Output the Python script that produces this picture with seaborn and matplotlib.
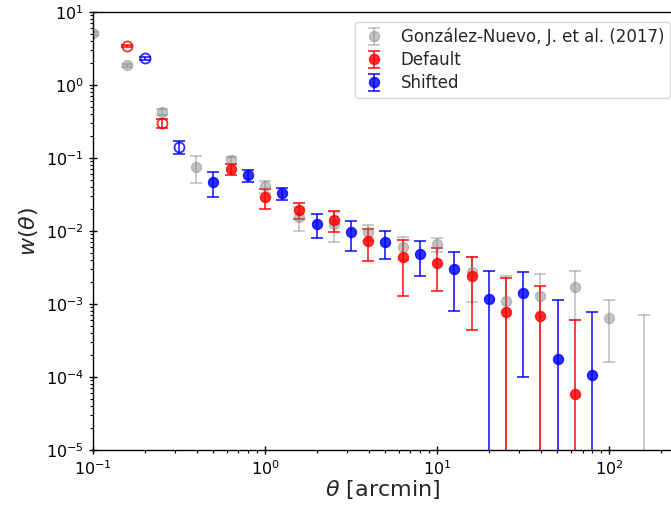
import numpy as np
import matplotlib
matplotlib.use("Agg")
import matplotlib.pyplot as plt
import seaborn as sns

# ---- data ----
gn_theta = [0.1, 0.1585, 0.2512, 0.3981, 0.631, 1.0, 1.585, 2.512, 3.981,
            6.31, 10.0, 15.85, 25.12, 39.81, 63.1, 100.0, 158.5]
gn_w = [5.1, 1.85, 0.43, 0.076, 0.094, 0.041, 0.0156, 0.0126, 0.0097,
        0.0061, 0.0066, 0.00277, 0.0011, 0.00129, 0.00171, 0.00064, -0.0003]
gn_err = [0.2, 0.07, 0.04, 0.03, 0.01, 0.0078, 0.0056, 0.0055, 0.0024,
          0.0021, 0.0015, 0.0017, 0.0013, 0.0013, 0.0011, 0.00048, 0.001]

def_theta = [0.1585, 0.2512, 0.631, 1.0, 1.585, 2.512, 3.981, 6.31, 10.0,
             15.85, 25.12, 39.81, 63.1]
def_w = [3.42, 0.30, 0.071, 0.029, 0.0194, 0.0142, 0.0073, 0.0044, 0.0037,
         0.00244, 0.00078, 0.00069, 5.8e-5]
def_err = [0.12, 0.04, 0.013, 0.009, 0.005, 0.0044, 0.0034, 0.0031, 0.0022,
           0.002, 0.00147, 0.0011, 0.00055]
def_open = [True, True, False, False, False, False, False, False, False,
            False, False, False, False]

sh_theta = [0.1995, 0.3162, 0.5012, 0.7943, 1.259, 1.995, 3.162, 5.012,
            7.943, 12.59, 19.95, 31.62, 50.12, 79.43]
sh_w = [2.32, 0.143, 0.047, 0.058, 0.033, 0.0124, 0.0096, 0.0071, 0.0048,
        0.0030, 0.00118, 0.00142, 1.75e-4, 1.06e-4]
sh_err = [0.12, 0.03, 0.018, 0.011, 0.0062, 0.0045, 0.0042, 0.003, 0.0024,
          0.0022, 0.00165, 0.00132, 0.00095, 0.00068]
sh_open = [True, True, False, False, False, False, False, False, False,
           False, False, False, False, False]

labels = ["González-Nuevo, J. et al. (2017)", "Default", "Shifted"]

sns.set_style("ticks")
plt.rcParams["font.family"] = ["DejaVu Sans"]
plt.rcParams["mathtext.fontset"] = "dejavusans"

fig = plt.figure(figsize=(6.71, 5.08), dpi=100)
ax = fig.add_axes([93 / 671, 1 - 450 / 508, (673 - 93) / 671, (450 - 12) / 508])
ax.set_xscale("log")
ax.set_yscale("log")

def draw(theta, w, err, color, alpha, label, open_mask=None):
    theta = np.asarray(theta)
    w = np.asarray(w)
    err = np.asarray(err)
    if open_mask is None:
        open_mask = np.zeros(len(theta), bool)
    open_mask = np.asarray(open_mask)
    h = ax.errorbar(theta, w, yerr=err, fmt="o", color=color, alpha=alpha,
                    ms=7.2, capsize=4.5, elinewidth=1.3, capthick=1.3,
                    label=label, markevery=list(np.where(~open_mask)[0]))
    if open_mask.any():
        ax.plot(theta[open_mask], w[open_mask], "o", mfc="none", mec=color,
                mew=1.3, ms=7.2, alpha=alpha, ls="none")
    return h

draw(gn_theta, gn_w, gn_err, "gray", 0.45, labels[0])
draw(def_theta, def_w, def_err, "red", 0.82, labels[1], def_open)
draw(sh_theta, sh_w, sh_err, "blue", 0.82, labels[2], sh_open)

ax.set_xlim(0.1, 235)
ax.set_ylim(1e-5, 10)
ax.set_xlabel(r"$\theta$ [arcmin]", fontsize=16, labelpad=0.5)
ax.set_ylabel(r"$w(\theta)$", fontsize=16)
ax.tick_params(which="major", direction="inout", length=6, width=1,
               labelsize=11.5, colors="black")
ax.tick_params(which="minor", direction="out", length=2.5, width=0.8,
               colors="black")
for s in ax.spines.values():
    s.set_color("black")
    s.set_linewidth(1)
    s.set_visible(True)

leg = ax.legend(loc="upper right", bbox_to_anchor=(670 / 671, 1 - 22 / 508),
                bbox_transform=fig.transFigure, borderaxespad=0,
                fontsize=12, frameon=True, framealpha=0.8, edgecolor="0.8",
                handlelength=1.6, labelspacing=0.3, borderpad=0.35)
leg.get_frame().set_linewidth(1)

fig.savefig("out.png", dpi=100)
